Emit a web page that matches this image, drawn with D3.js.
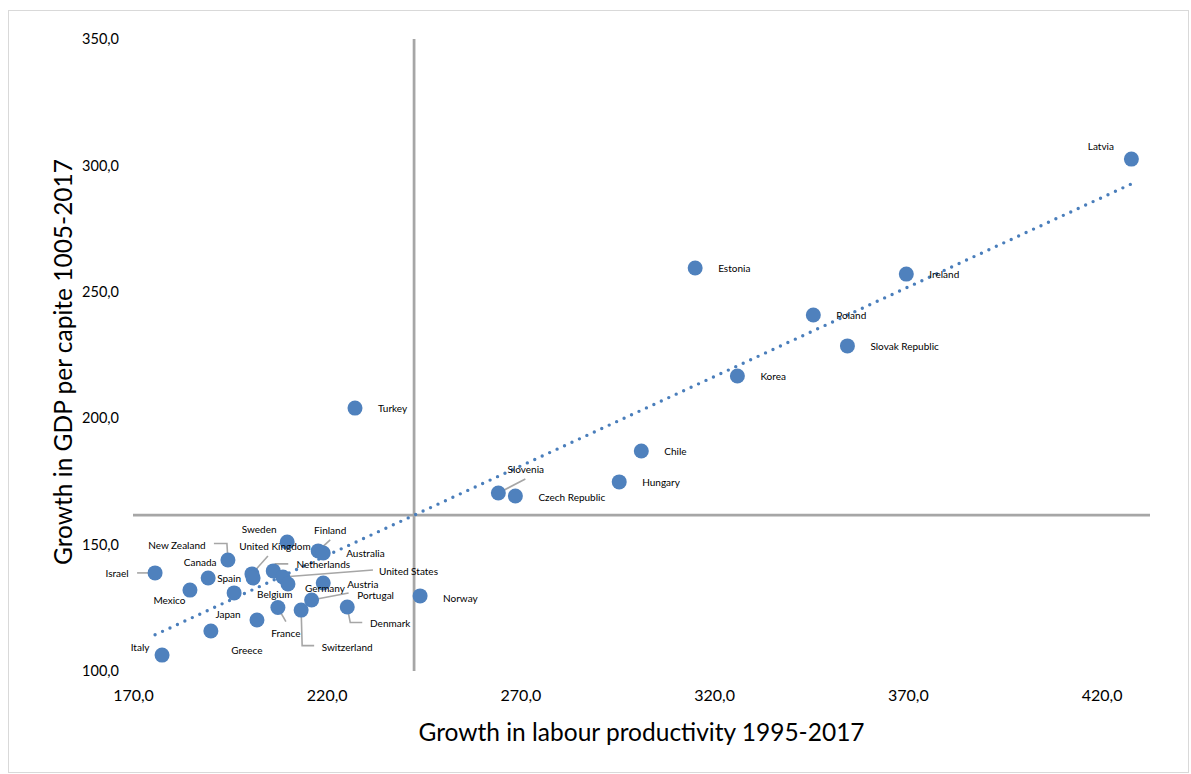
<!DOCTYPE html>
<html>
<head>
<meta charset="utf-8">
<script src="https://cdnjs.cloudflare.com/ajax/libs/d3/7.8.5/d3.min.js"></script>
<style>
body{margin:0;background:#fff;}
text{font-family:Lato, "Liberation Sans", sans-serif;fill:#000;}
</style>
</head>
<body>
<svg id="chart" width="1191" height="774"></svg>
<script>
var countries = ["Latvia","Estonia","Ireland","Poland","Slovak Republic","Korea","Turkey","Chile","Hungary",
    "Slovenia","Czech Republic","Norway","Sweden","Finland","Australia","New Zealand","Israel","United Kingdom",
    "Spain","Canada","Netherlands","United States","Germany","Austria","Mexico","Belgium","Portugal","Denmark",
    "France","Switzerland","Japan","Greece","Italy"];
var productivity = [427.7,315.1,369.6,345.6,354.4,326.0,227.3,301.2,295.5,
    264.3,268.7,244.1,209.8,217.8,219.1,194.5,175.7,200.7,
    201.0,189.4,206.2,208.7,210.0,219.1,184.7,196.1,216.1,225.3,
    207.4,213.4,202.0,190.1,177.5];
var gdpGrowth = [302.5,259.4,257.0,240.8,228.6,216.7,204.0,187.0,174.8,
    170.4,169.2,129.7,151.0,147.5,146.7,143.9,138.8,138.4,
    136.8,136.8,139.6,137.2,134.4,134.8,132.0,130.9,128.1,125.3,
    125.1,124.1,120.2,115.8,106.3];
var xTicks = [170,220,270,320,370,420];
var yTicks = [100,150,200,250,300,350];
var xTitle = "Growth in labour productivity 1995-2017";
var yTitle = "Growth in GDP per capite 1005-2017";

// where each label sits, in pixels from its point (a = text-anchor), plus leader lines
var labelPos = {
    "Latvia":{a:"middle",dx:-30.5,dy:-13.5},
    "Estonia":{a:"start",dx:23,dy:0},
    "Ireland":{a:"start",dx:23,dy:0},
    "Poland":{a:"start",dx:23,dy:0},
    "Slovak Republic":{a:"start",dx:23,dy:0},
    "Korea":{a:"start",dx:23,dy:0},
    "Turkey":{a:"start",dx:23,dy:0},
    "Chile":{a:"start",dx:23,dy:0},
    "Hungary":{a:"start",dx:23,dy:0},
    "Slovenia":{a:"middle",dx:27.5,dy:-24.5,line:[[27,-14],[0,0]]},
    "Czech Republic":{a:"start",dx:23,dy:1},
    "Norway":{a:"start",dx:23,dy:2},
    "Sweden":{a:"middle",dx:-28,dy:-13},
    "Finland":{a:"middle",dx:12,dy:-20.5,line:[[12,-11],[0,0]]},
    "Australia":{a:"start",dx:23,dy:0},
    "New Zealand":{a:"middle",dx:-51,dy:-15,line:[[-14,-16.5],[-1,-16.5],[0,0]]},
    "Israel":{a:"middle",dx:-38,dy:0,line:[[-18,0],[0,0]]},
    "United Kingdom":{a:"middle",dx:23,dy:-28,line:[[16,-18],[0,0]]},
    "Spain":{a:"middle",dx:-24,dy:0},
    "Canada":{a:"middle",dx:-8,dy:-16},
    "Netherlands":{a:"middle",dx:50,dy:-7,line:[[15,-7],[2,-7],[0,0]]},
    "United States":{a:"start",dx:96,dy:-6,line:[[90,-7],[0,0]]},
    "Germany":{a:"start",dx:17,dy:4},
    "Austria":{a:"start",dx:24,dy:0.5},
    "Mexico":{a:"middle",dx:-20.5,dy:10},
    "Belgium":{a:"start",dx:23,dy:1},
    "Portugal":{a:"middle",dx:64,dy:-5,line:[[37,-7],[0,0]]},
    "Denmark":{a:"middle",dx:43,dy:16,line:[[0,0],[3,15.5],[15,15.5]]},
    "France":{a:"middle",dx:8,dy:25,line:[[0,0],[8,14]]},
    "Switzerland":{a:"middle",dx:46,dy:36.5,line:[[0,0],[1,35.5],[13,35.5]]},
    "Japan":{a:"middle",dx:-29,dy:-6},
    "Greece":{a:"middle",dx:36,dy:19},
    "Italy":{a:"middle",dx:-22,dy:-8}
};

var svg = d3.select('#chart');

svg.append('rect')
    .attr('x',8.5).attr('y',10.5)
    .attr('width',1180).attr('height',762)
    .attr('fill','#fff').attr('stroke','#d9d9d9');

var x = d3.scaleLinear().domain([170,432.5]).range([133,1150]);
var y = d3.scaleLinear().domain([100,350]).range([671,39]);

var fmt = function(d){ return d3.format('.1f')(d).replace('.', ','); };

var xAxis = svg.append('g')
    .attr('transform','translate(0,671)')
    .call(d3.axisBottom(x).tickValues(xTicks).tickSize(0).tickPadding(19).tickFormat(fmt));
xAxis.select('.domain').remove();
xAxis.selectAll('text').style('font-size','16px').style('font-family','Lato');

var yAxis = svg.append('g')
    .attr('transform','translate(133,0)')
    .call(d3.axisLeft(y).tickValues(yTicks).tickSize(0).tickPadding(14).tickFormat(fmt));
yAxis.select('.domain').remove();
yAxis.selectAll('text').style('font-size','14.5px').style('font-family','Lato');

var data = countries.map(function(c,i){
    return {name:c, px:productivity[i], gy:gdpGrowth[i]};
});

// quadrant lines at the averages
var xMean = d3.mean(productivity), yMean = d3.mean(gdpGrowth);
svg.append('line')
    .attr('x1',x(xMean)).attr('x2',x(xMean))
    .attr('y1',y(100)).attr('y2',y(350))
    .attr('stroke','#a6a6a6').attr('stroke-width',2.75);
svg.append('line')
    .attr('x1',x(170)).attr('x2',x(432.5))
    .attr('y1',y(yMean)).attr('y2',y(yMean))
    .attr('stroke','#a6a6a6').attr('stroke-width',2.75);

// linear trend (least squares)
var sxy = d3.sum(data,function(d){return (d.px-xMean)*(d.gy-yMean);});
var sxx = d3.sum(data,function(d){return (d.px-xMean)*(d.px-xMean);});
var slope = sxy/sxx, icpt = yMean - slope*xMean;
var xr = d3.extent(productivity);
svg.append('path')
    .datum(xr)
    .attr('d',function(e){
        return d3.line()([[x(e[0]),y(icpt+slope*e[0])],[x(e[1]),y(icpt+slope*e[1])]]);
    })
    .attr('stroke','#4a7ebb').attr('stroke-width',3.4)
    .attr('stroke-linecap','round').attr('stroke-dasharray','0,8.2')
    .attr('fill','none');

// leader lines
svg.append('g').selectAll('path')
    .data(data.filter(function(d){return labelPos[d.name].line;}))
    .enter().append('path')
    .attr('d',function(d){
        var cx = x(d.px), cy = y(d.gy);
        return d3.line()(labelPos[d.name].line.map(function(p){return [cx+p[0],cy+p[1]];}));
    })
    .attr('fill','none').attr('stroke','#a6a6a6').attr('stroke-width',1.6);

svg.append('g').selectAll('circle')
    .data(data)
    .enter().append('circle')
    .attr('cx',function(d){return x(d.px);})
    .attr('cy',function(d){return y(d.gy);})
    .attr('r',7.5)
    .attr('fill','#4f81bd');

svg.append('g').selectAll('text')
    .data(data)
    .enter().append('text')
    .attr('x',function(d){return x(d.px)+labelPos[d.name].dx;})
    .attr('y',function(d){return y(d.gy)+labelPos[d.name].dy;})
    .attr('text-anchor',function(d){return labelPos[d.name].a;})
    .attr('dominant-baseline','central')
    .style('font-size','10px')
    .text(function(d){return d.name;});

svg.append('text')
    .attr('x',641.5).attr('y',731)
    .attr('text-anchor','middle').attr('dominant-baseline','central')
    .style('font-size','24.5px')
    .text(xTitle);

svg.append('text')
    .attr('transform','translate(62,362) rotate(-90)')
    .attr('text-anchor','middle').attr('dominant-baseline','central')
    .style('font-size','24.5px')
    .text(yTitle);
</script>
</body>
</html>
